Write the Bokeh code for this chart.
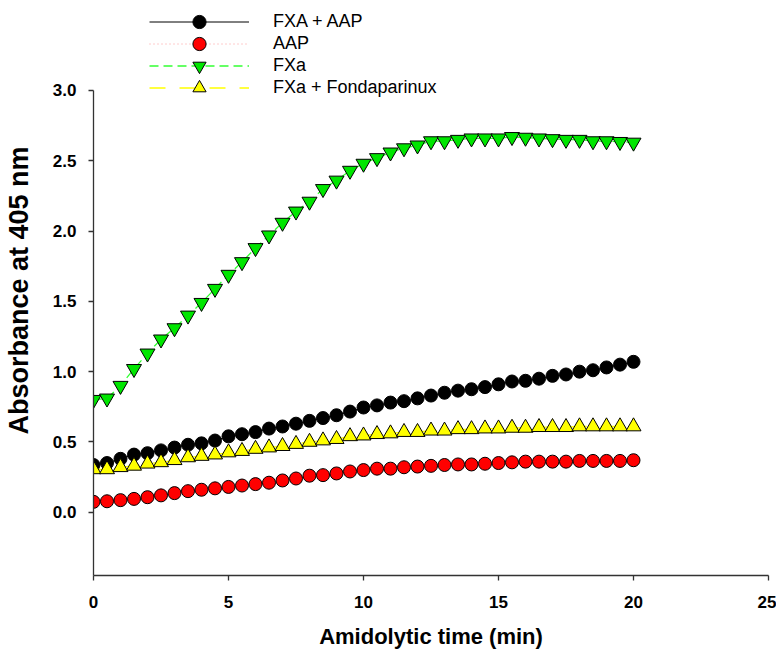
from bokeh.plotting import figure
from bokeh.models import Range1d, FixedTicker, Legend, LegendItem, PrintfTickFormatter
from bokeh.embed import file_html
from bokeh.resources import INLINE

time_min = [0.0, 0.5, 1.0, 1.5, 2.0, 2.5, 3.0, 3.5, 4.0, 4.5, 5.0, 5.5, 6.0, 6.5, 7.0, 7.5,
            8.0, 8.5, 9.0, 9.5, 10.0, 10.5, 11.0, 11.5, 12.0, 12.5, 13.0, 13.5, 14.0, 14.5,
            15.0, 15.5, 16.0, 16.5, 17.0, 17.5, 18.0, 18.5, 19.0, 19.5, 20.0]

fxa_aap = [0.336, 0.35, 0.38, 0.41, 0.42, 0.44, 0.46, 0.48, 0.49, 0.51, 0.54, 0.555, 0.57,
           0.595, 0.61, 0.63, 0.65, 0.67, 0.69, 0.716, 0.745, 0.76, 0.78, 0.79, 0.81, 0.83,
           0.85, 0.865, 0.875, 0.89, 0.91, 0.93, 0.935, 0.95, 0.97, 0.98, 1.00, 1.01, 1.03,
           1.05, 1.07]

aap = [0.074, 0.078, 0.086, 0.095, 0.107, 0.12, 0.136, 0.15, 0.16, 0.17, 0.18, 0.19, 0.20,
       0.21, 0.226, 0.24, 0.26, 0.264, 0.276, 0.29, 0.30, 0.31, 0.31, 0.32, 0.325, 0.33,
       0.336, 0.34, 0.34, 0.345, 0.35, 0.355, 0.36, 0.36, 0.36, 0.36, 0.365, 0.365, 0.365,
       0.365, 0.37]

fxa = [0.80, 0.81, 0.90, 1.02, 1.13, 1.23, 1.31, 1.40, 1.49, 1.59, 1.69, 1.78, 1.88, 1.97,
       2.06, 2.14, 2.21, 2.30, 2.36, 2.43, 2.48, 2.52, 2.56, 2.59, 2.61, 2.64, 2.64, 2.65,
       2.66, 2.66, 2.66, 2.67, 2.665, 2.66, 2.655, 2.65, 2.65, 2.64, 2.64, 2.635, 2.63]

fxa_fonda = [0.305, 0.305, 0.32, 0.33, 0.345, 0.355, 0.37, 0.39, 0.40, 0.41, 0.425, 0.435,
             0.45, 0.46, 0.47, 0.485, 0.50, 0.51, 0.52, 0.54, 0.545, 0.555, 0.56, 0.57, 0.57,
             0.58, 0.58, 0.59, 0.59, 0.595, 0.595, 0.60, 0.60, 0.605, 0.605, 0.605, 0.61,
             0.61, 0.61, 0.61, 0.61]

series_names = ["FXA + AAP", "AAP", "FXa", "FXa + Fondaparinux"]
x_ticks = [0, 5, 10, 15, 20, 25]
y_ticks = [0.0, 0.5, 1.0, 1.5, 2.0, 2.5, 3.0]
y_axis_bounds = (-0.45, 3.0)

FONT = "Liberation Sans"

# frame spans the full height so the legend (drawn in the frame) is not clipped;
# the y axis line is bounded to the reference's -0.45 .. 3.0 extent
p = figure(width=776, height=655, output_backend="svg", toolbar_location=None,
           x_range=Range1d(0, 25), y_range=Range1d(-0.45, 3.6046),
           min_border_left=93, min_border_right=8, min_border_top=5, min_border_bottom=80)

p.outline_line_color = None
p.xgrid.visible = False
p.ygrid.visible = False
p.background_fill_color = "white"
p.border_fill_color = "white"

for ax in (p.xaxis[0], p.yaxis[0]):
    ax.axis_line_color = "#333333"
    ax.axis_line_width = 1.3
    ax.major_tick_line_color = "#333333"
    ax.major_tick_line_width = 1.3
    ax.major_tick_out = 5
    ax.major_tick_in = 0
    ax.minor_tick_out = 0
    ax.minor_tick_in = 0
    ax.major_label_text_font = FONT
    ax.major_label_text_font_style = "bold"
    ax.major_label_text_font_size = "17px"
    ax.major_label_text_color = "black"
    ax.axis_label_text_font = FONT
    ax.axis_label_text_font_style = "bold"
    ax.axis_label_text_color = "black"

p.xaxis[0].ticker = FixedTicker(ticks=x_ticks)
p.xaxis[0].formatter = PrintfTickFormatter(format="%d")
p.xaxis[0].major_label_standoff = 15
p.xaxis[0].axis_label = "Amidolytic time (min)"
p.xaxis[0].axis_label_text_font_size = "22px"
p.xaxis[0].axis_label_standoff = 13

p.yaxis[0].ticker = FixedTicker(ticks=y_ticks)
p.yaxis[0].bounds = y_axis_bounds
p.yaxis[0].formatter = PrintfTickFormatter(format="%.1f")
p.yaxis[0].major_label_standoff = 12
p.yaxis[0].axis_label = "Absorbance at 405 nm"
p.yaxis[0].axis_label_text_font_size = "27px"
p.yaxis[0].axis_label_standoff = 16

# FXA + AAP
l1 = p.line(time_min, fxa_aap, line_color="black", line_width=1)
s1 = p.scatter(time_min, fxa_aap, marker="circle", size=13, fill_color="black",
               line_color="black", line_width=1)
# AAP
l2 = p.line(time_min, aap, line_color="#ff9999", line_width=1, line_dash="1 3")
s2 = p.scatter(time_min, aap, marker="circle", size=13, fill_color="#ff0000",
               line_color="black", line_width=1)
# FXa
l3 = p.line(time_min, fxa, line_color="#33ff33", line_width=1.3, line_dash="9 5")
s3 = p.scatter(time_min, fxa, marker="inverted_triangle", size=15, fill_color="#00e600",
               line_color="black", line_width=1)
# FXa + Fondaparinux
l4 = p.line(time_min, fxa_fonda, line_color="#ffff00", line_width=1.3, line_dash="16 14")
s4 = p.scatter(time_min, fxa_fonda, marker="triangle", size=15, fill_color="#ffff00",
               line_color="black", line_width=1)

# one single-item legend per row so the legend markers can be large while rows stay close
renderer_pairs = [(l1, s1), (l2, s2), (l3, s3), (l4, s4)]
for i, (name, rs) in enumerate(zip(series_names, renderer_pairs)):
    legend = Legend(
        items=[LegendItem(label=name, renderers=list(rs))],
        location=(56, 537 - 22 * i), orientation="vertical",
        glyph_width=100, glyph_height=33, label_height=22, spacing=0,
        label_standoff=24, padding=0, margin=0,
        label_text_font=FONT, label_text_font_size="18px", label_text_color="black",
        border_line_color=None, background_fill_alpha=0,
    )
    p.add_layout(legend, "center")

open("out.html", "w").write(file_html(p, INLINE))
